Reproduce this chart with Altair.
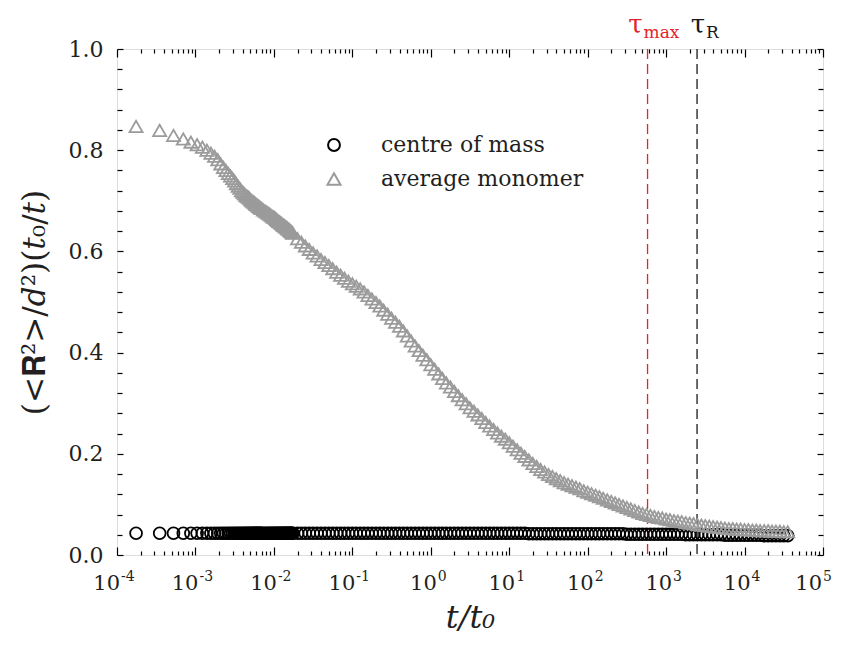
import altair as alt
import pandas as pd

FONT = "DejaVu Serif"
TXT = "#231f20"

# sampling times t/t0 (shared by both series)
t_values = [
    1.75e-4, 3.5e-4, 5.25e-4, 7.0e-4, 8.75e-4, 1.05e-3, 1.225e-3, 1.4e-3, 1.575e-3, 1.75e-3,
    1.925e-3, 2.1e-3, 2.275e-3, 2.45e-3, 2.625e-3, 2.8e-3, 2.975e-3, 3.15e-3, 3.325e-3, 3.5e-3,
    3.675e-3, 3.85e-3, 4.025e-3, 4.2e-3, 4.375e-3, 4.55e-3, 4.725e-3, 4.9e-3, 5.075e-3, 5.25e-3,
    5.425e-3, 5.6e-3, 5.775e-3, 5.95e-3, 6.125e-3, 6.3e-3, 6.475e-3, 6.65e-3, 6.825e-3, 7.0e-3,
    7.35e-3, 7.7e-3, 8.05e-3, 8.4e-3, 8.75e-3, 9.1e-3, 9.45e-3, 9.8e-3, 1.015e-2, 1.05e-2,
    1.085e-2, 1.12e-2, 1.155e-2, 1.19e-2, 1.225e-2, 1.26e-2, 1.295e-2, 1.33e-2, 1.365e-2, 1.4e-2,
    1.435e-2, 1.47e-2, 1.505e-2, 1.54e-2, 1.575e-2, 1.61e-2, 1.645e-2, 1.68e-2, 1.715e-2, 1.75e-2,
    2.00e-2, 2.24e-2, 2.51e-2, 2.82e-2, 3.16e-2, 3.55e-2, 3.98e-2, 4.47e-2, 5.01e-2, 5.62e-2,
    6.31e-2, 7.08e-2, 7.94e-2, 8.91e-2,
    0.100, 0.112, 0.126, 0.141, 0.158, 0.178, 0.200, 0.224, 0.251, 0.282,
    0.316, 0.355, 0.398, 0.447, 0.501, 0.562, 0.631, 0.708, 0.794, 0.891,
    1.00, 1.12, 1.26, 1.41, 1.58, 1.78, 2.00, 2.24, 2.51, 2.82,
    3.16, 3.55, 3.98, 4.47, 5.01, 5.62, 6.31, 7.08, 7.94, 8.91,
    10.0, 11.2, 12.6, 14.1, 15.8, 17.8, 20.0, 22.4, 25.1, 28.2,
    31.6, 35.5, 39.8, 44.7, 50.1, 56.2, 63.1, 70.8, 79.4, 89.1,
    100, 112, 126, 141, 158, 178, 200, 224, 251, 282,
    316, 355, 398, 447, 501, 562, 631, 708, 794, 891,
    1000, 1120, 1260, 1410, 1580, 1780, 2000, 2240, 2510, 2820,
    3160, 3550, 3980, 4470, 5010, 5620, 6310, 7080, 7940, 8910,
    10000, 11200, 12600, 14100, 15800, 17800, 20000, 22400, 25100, 28200,
    31600, 35500,
]

# centre of mass
y_com = [
    0.043, 0.043, 0.043, 0.043, 0.043, 0.043, 0.043, 0.043, 0.043, 0.043,
    0.043, 0.043, 0.043, 0.043, 0.043, 0.043, 0.043, 0.043, 0.043, 0.043,
    0.043, 0.043, 0.043, 0.043, 0.043, 0.043, 0.043, 0.043, 0.043, 0.043,
    0.043, 0.043, 0.043, 0.043, 0.043, 0.043, 0.043, 0.043, 0.043, 0.043,
    0.043, 0.043, 0.043, 0.043, 0.043, 0.043, 0.043, 0.043, 0.043, 0.043,
    0.043, 0.043, 0.043, 0.043, 0.043, 0.043, 0.043, 0.043, 0.043, 0.043,
    0.043, 0.043, 0.043, 0.043, 0.043, 0.043, 0.043, 0.043, 0.043, 0.043,
    0.043, 0.043, 0.043, 0.043, 0.043, 0.043, 0.043, 0.043, 0.043, 0.043,
    0.043, 0.043, 0.043, 0.043,
    0.043, 0.043, 0.043, 0.043, 0.043, 0.043, 0.043, 0.043, 0.043, 0.043,
    0.043, 0.043, 0.043, 0.043, 0.043, 0.043, 0.043, 0.043, 0.043, 0.043,
    0.043, 0.043, 0.043, 0.043, 0.043, 0.043, 0.043, 0.043, 0.043, 0.043,
    0.043, 0.043, 0.043, 0.043, 0.043, 0.043, 0.043, 0.043, 0.043, 0.043,
    0.043, 0.043, 0.043, 0.043, 0.043, 0.042, 0.042, 0.042, 0.042, 0.042,
    0.042, 0.042, 0.042, 0.042, 0.042, 0.042, 0.042, 0.042, 0.042, 0.042,
    0.042, 0.042, 0.042, 0.042, 0.042, 0.042, 0.042, 0.042, 0.042, 0.042,
    0.041, 0.041, 0.041, 0.041, 0.041, 0.041, 0.041, 0.041, 0.041, 0.041,
    0.041, 0.041, 0.041, 0.041, 0.041, 0.040, 0.040, 0.040, 0.040, 0.040,
    0.040, 0.040, 0.040, 0.040, 0.040, 0.039, 0.039, 0.039, 0.039, 0.039,
    0.039, 0.039, 0.039, 0.039, 0.039, 0.038, 0.038, 0.038, 0.038, 0.038,
    0.038, 0.038,
]

# average monomer
y_mono = [
    0.847, 0.839, 0.829, 0.822, 0.816, 0.811, 0.806, 0.800, 0.794, 0.788,
    0.781, 0.773, 0.766, 0.760, 0.754, 0.749, 0.744, 0.739, 0.734, 0.729,
    0.725, 0.720, 0.717, 0.714, 0.711, 0.709, 0.707, 0.705, 0.702, 0.700,
    0.698, 0.697, 0.695, 0.693, 0.692, 0.690, 0.689, 0.687, 0.686, 0.685,
    0.682, 0.680, 0.678, 0.676, 0.674, 0.672, 0.670, 0.668, 0.667, 0.665,
    0.663, 0.661, 0.659, 0.658, 0.656, 0.655, 0.653, 0.652, 0.651, 0.649,
    0.648, 0.647, 0.645, 0.644, 0.643, 0.641, 0.640, 0.639, 0.637, 0.636,
    0.625, 0.618, 0.611, 0.604, 0.597, 0.591, 0.584, 0.578, 0.572, 0.566,
    0.559, 0.553, 0.547, 0.541,
    0.536, 0.531, 0.526, 0.520, 0.513, 0.506, 0.499, 0.492, 0.484, 0.476,
    0.468, 0.460, 0.452, 0.443, 0.433, 0.423, 0.413, 0.404, 0.395, 0.386,
    0.376, 0.367, 0.358, 0.349, 0.340, 0.332, 0.323, 0.315, 0.307, 0.299,
    0.291, 0.284, 0.277, 0.270, 0.262, 0.255, 0.248, 0.241, 0.235, 0.229,
    0.222, 0.215, 0.208, 0.201, 0.195, 0.188, 0.181, 0.175, 0.169, 0.164,
    0.159, 0.155, 0.151, 0.147, 0.143, 0.140, 0.137, 0.134, 0.131, 0.127,
    0.124, 0.121, 0.118, 0.115, 0.112, 0.109, 0.106, 0.103, 0.100, 0.097,
    0.094, 0.091, 0.088, 0.085, 0.082, 0.080, 0.078, 0.076, 0.074, 0.073,
    0.071, 0.070, 0.068, 0.067, 0.066, 0.064, 0.063, 0.062, 0.060, 0.059,
    0.058, 0.057, 0.056, 0.055, 0.054, 0.053, 0.052, 0.052, 0.051, 0.051,
    0.050, 0.050, 0.049, 0.049, 0.048, 0.048, 0.048, 0.047, 0.047, 0.047,
    0.046, 0.046,
]

assert len(t_values) == len(y_com) == len(y_mono)

series_names = ["centre of mass", "average monomer"]
series_colors = ["#000000", "#9b9b9b"]
series_shapes = ["circle", "triangle-up"]
series_sizes = [140, 170]

x_major = [1e-4, 1e-3, 1e-2, 1e-1, 1e0, 1e1, 1e2, 1e3, 1e4, 1e5]
x_base_labels = ["10"] * 10
x_exp_labels = ["-4", "-3", "-2", "-1", "0", "1", "2", "3", "4", "5"]
x_minor = [m * 10.0 ** k for k in range(-4, 5) for m in range(2, 10)]
y_major = [0.0, 0.2, 0.4, 0.6, 0.8, 1.0]
y_minor = [0.04, 0.08, 0.12, 0.16, 0.24, 0.28, 0.32, 0.36, 0.44, 0.48, 0.52, 0.56,
           0.64, 0.68, 0.72, 0.76, 0.84, 0.88, 0.92, 0.96]

tau_values = [580, 2480]
tau_colors = ["#e4232b", "#1a1a1a"]
tau_symbol = ["τ", "τ"]
tau_sub = ["max", "R"]
tau_sym_dx = [-12, 1]
tau_sub_dx = [-4, 9]

y_title = "(<𝐑²>/𝑑²)(𝑡₀/𝑡)"
x_title = "t/t₀"

W, H = 706, 506

rows = []
for name, ys_ in zip(series_names, [y_com, y_mono]):
    for t, v in zip(t_values, ys_):
        rows.append({"t": t, "value": v, "series": name})
df = pd.DataFrame(rows)

tau_df = pd.DataFrame({"t": tau_values, "color": tau_colors, "sym": tau_symbol, "sub": tau_sub})
lab_df = pd.DataFrame({"t": x_major, "base": x_base_labels, "exp": x_exp_labels})

xs = alt.Scale(type="log", domain=[1e-4, 1e5], nice=False)
ys = alt.Scale(domain=[0, 1], nice=False, zero=False)

legend = alt.Legend(title=None, orient="none", legendX=206, legendY=85,
                    labelFont=FONT, labelFontSize=22, labelColor=TXT, labelOffset=36,
                    labelLimit=400, symbolStrokeWidth=2, symbolSize=140, rowPadding=12,
                    padding=0)

points = alt.Chart(df).mark_point(filled=False, strokeWidth=1.8, opacity=1).encode(
    x=alt.X("t:Q", scale=xs, axis=alt.Axis(
        orient="bottom", values=x_major, labels=False, ticks=False, tickSize=0,
        domain=False, grid=False, title=x_title, titleFont=FONT, titleFontSize=32,
        titleFontStyle="italic", titleFontWeight="normal", titleColor=TXT, titlePadding=47)),
    y=alt.Y("value:Q", scale=ys, axis=alt.Axis(
        orient="left", values=y_major, format=".1f", ticks=False, tickSize=0,
        domain=False, grid=False, labelFont=FONT, labelFontSize=22, labelColor=TXT,
        labelPadding=14, title=y_title, titleFont=FONT, titleFontSize=31,
        titleFontWeight="normal", titleColor=TXT, titlePadding=17)),
    color=alt.Color("series:N", scale=alt.Scale(domain=series_names, range=series_colors), legend=legend),
    shape=alt.Shape("series:N", scale=alt.Scale(domain=series_names, range=series_shapes), legend=legend),
    size=alt.Size("series:N", scale=alt.Scale(domain=series_names, range=series_sizes), legend=None),
)


def tick_axis(orient, values, size):
    return alt.Axis(orient=orient, values=values, labels=False, domain=False, grid=False,
                    ticks=True, tickSize=size, offset=-size, tickColor="#000000",
                    tickWidth=1.2, title=None)


def tick_layer(xa, ya):
    return alt.Chart(df).mark_point(opacity=0).encode(
        x=alt.X("t:Q", scale=xs, axis=xa),
        y=alt.Y("value:Q", scale=ys, axis=ya),
    )


t1 = tick_layer(tick_axis("bottom", x_major, 8), tick_axis("left", y_major, 6))
t2 = tick_layer(tick_axis("bottom", x_minor, 4), tick_axis("left", y_minor, 5))
t3 = tick_layer(tick_axis("top", x_major, 8), tick_axis("right", y_major, 6))
t4 = tick_layer(tick_axis("top", x_minor, 4), tick_axis("right", y_minor, 5))

# x tick labels 10^n drawn as text through the x scale
xlabels = []
for test, split in [("datum.t < 1", 3), ("datum.t >= 1 && datum.t < 50000", 6), ("datum.t > 50000", -1)]:
    base = alt.Chart(lab_df).transform_filter(test)
    xlabels.append(base.mark_text(font=FONT, fontSize=21, align="right", baseline="alphabetic",
                                  dx=split, color=TXT).encode(
        x=alt.X("t:Q", scale=xs, axis=None), y=alt.value(H + 35), text="base:N"))
    xlabels.append(base.mark_text(font=FONT, fontSize=14, align="left", baseline="alphabetic",
                                  dx=split + 1, color=TXT).encode(
        x=alt.X("t:Q", scale=xs, axis=None), y=alt.value(H + 26), text="exp:N"))

rules = alt.Chart(tau_df).mark_rule(strokeDash=[10, 5], strokeWidth=1.3).encode(
    x=alt.X("t:Q", scale=xs, axis=None),
    y=alt.value(0), y2=alt.value(H),
    stroke=alt.Stroke("color:N", scale=None),
)

texts = []
for i in range(len(tau_values)):
    sub = tau_df.iloc[[i]]
    texts.append(alt.Chart(sub).mark_text(font=FONT, fontSize=26, align="center",
                                          baseline="alphabetic", dx=tau_sym_dx[i]).encode(
        x=alt.X("t:Q", scale=xs, axis=None), y=alt.value(-16),
        text="sym:N", fill=alt.Fill("color:N", scale=None)))
    texts.append(alt.Chart(sub).mark_text(font=FONT, fontSize=17, align="left",
                                          baseline="alphabetic", dx=tau_sub_dx[i]).encode(
        x=alt.X("t:Q", scale=xs, axis=None), y=alt.value(-11),
        text="sub:N", fill=alt.Fill("color:N", scale=None)))

chart = alt.layer(t1, t2, t3, t4, rules, points, *xlabels, *texts).resolve_axis(
    x="independent", y="independent"
).properties(
    width=W, height=H,
    autosize=alt.AutoSizeParams(type="none"),
    padding={"left": 109, "top": 41, "right": 10, "bottom": 89},
).configure_view(stroke="#000000", strokeWidth=1.5).configure(background="white")

chart.save("out.html", embed_options={"renderer": "svg", "actions": False})
